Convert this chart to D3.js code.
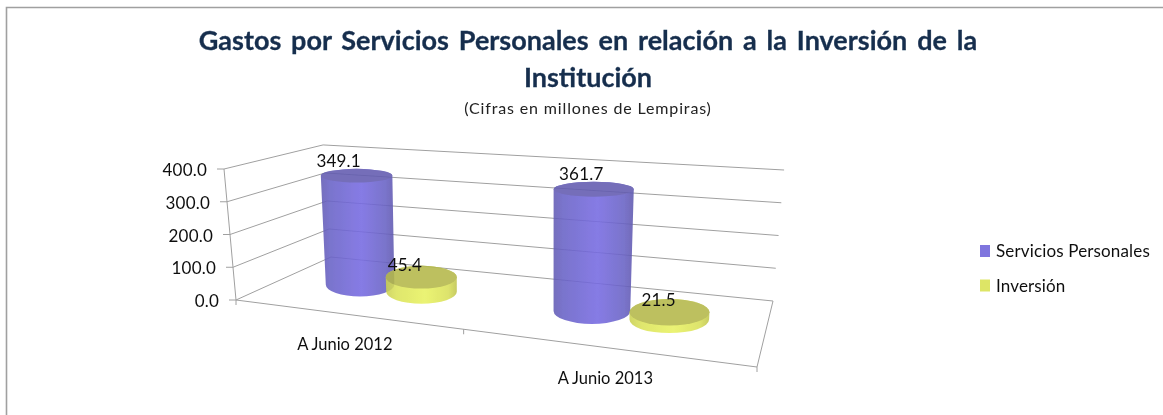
<!DOCTYPE html>
<html><head><meta charset="utf-8">
<script src="https://cdn.jsdelivr.net/npm/d3@7"></script>
<style>html,body{margin:0;padding:0;background:#fff}svg{display:block}text{font-family:Lato,"Noto Sans",sans-serif}</style>
</head><body><svg id="c" width="1163" height="415"></svg>
<script>
const categories = ["A Junio 2012", "A Junio 2013"];
const seriesNames = ["Servicios Personales", "Inversión"];
const serviciosPersonales = [349.1, 361.7];
const inversion = [45.4, 21.5];
const valueTicks = [0, 100, 200, 300, 400];
const titleLines = ["Gastos por Servicios Personales en relación a la Inversión de la", "Institución"];
const subtitle = "(Cifras en millones de Lempiras)";
const seriesValues = [serviciosPersonales, inversion];

// scene layout: floor quad of the 3-D box (front-left, front-right, back-right, back-left)
const FL=[236,300], FR=[757,367], BR=[773,301], BL=[331,257];
const WALL_H=131, LEAN=0.043, LEAN_X=515;
const dx1=FR[0]-BR[0], dx2=BL[0]-BR[0], sx=FL[0]-FR[0]+BR[0]-BL[0];
const dy1=FR[1]-BR[1], dy2=BL[1]-BR[1], sy=FL[1]-FR[1]+BR[1]-BL[1];
const den=dx1*dy2-dx2*dy1;
const g=(sx*dy2-dx2*sy)/den, h=(dx1*sy-sx*dy1)/den;
const a=FR[0]-FL[0]+g*FR[0], b=BL[0]-FL[0]+h*BL[0], c0=FL[0];
const d=FR[1]-FL[1]+g*FR[1], e=BL[1]-FL[1]+h*BL[1], f0=FL[1];
const val=d3.scaleLinear().domain([0,400]).range([0,1]);
function proj(u,v,value=0,lean=LEAN){
  const w=g*u+h*v+1;
  const x=(a*u+b*v+c0)/w, y=(d*u+e*v+f0)/w;
  const t=val(value);
  const wallScale=1+0.17*((1-u)*v*-0.85+u*(1-v)*0.85);
  return [x+(x-LEAN_X)*lean*t, y-t*WALL_H*wallScale];
}
const xCat=d3.scaleBand().domain(categories).range([0.004,1.012]);
const xSer=d3.scaleBand().domain(seriesNames).range([-0.145,0.145]);
const R=0.078, DEPTH=0.5, BAR_LEAN=LEAN*0.6, R_MEAN=36.5, R_DAMP=0.5, TOP_FLARE=0.045;

const svg=d3.select("#c");
const defs=svg.append("defs");
defs.append("filter").attr("id","soft").attr("x","-5%").attr("y","-5%").attr("width","110%").attr("height","110%")
  .append("feGaussianBlur").attr("stdDeviation",0.45);
function grad(id,stops){
  const gr=defs.append("linearGradient").attr("id",id);
  stops.forEach(s=>gr.append("stop").attr("offset",s[0]).attr("stop-color",s[1]));
}
grad("gBlue",[[0,"#625cb4"],[0.12,"#6861c6"],[0.55,"#766ae2"],[0.88,"#6861c4"],[1,"#5e58ae"]]);
grad("gYel",[[0,"#c9cf52"],[0.15,"#dbe359"],[0.55,"#e8f261"],[0.88,"#d9e058"],[1,"#bfc44e"]]);
const topFill=["#625bb0","#b4b84a"];
const color=d3.scaleOrdinal().domain(seriesNames).range(["#7f74de","#dde566"]);

// frame
svg.append("path").attr("d",d3.line()([[6.5,415],[6.5,7.5],[1163,7.5]]))
  .attr("fill","none").attr("stroke","#a0a0a0").attr("stroke-width",1.6);

const chart=svg.append("g").attr("filter","url(#soft)");
const line=d3.line();
const gridC="#a0a0a0";
// gridlines
valueTicks.forEach(t=>{
  chart.append("path").attr("d",line([proj(0,0,t),proj(0,1,t),proj(1,1,t)]))
    .attr("fill","none").attr("stroke",gridC).attr("stroke-width",1);
  const p=proj(0,0,t);
  chart.append("path").attr("d",line([[p[0]-7,p[1]],p])).attr("stroke",gridC).attr("fill","none");
  chart.append("text").attr("x",p[0]-17).attr("y",p[1]+7).attr("text-anchor","end")
    .attr("font-size",17).attr("letter-spacing",0.2).attr("fill","#111").text(d3.format(".1f")(t));
});
// axis + floor
chart.append("path").attr("d",line([proj(0,0,0),proj(0,0,400)])).attr("fill","none").attr("stroke",gridC);
chart.append("path").attr("d",line([proj(0,0,0),proj(1,0,0),proj(1,1,0)])).attr("fill","none").attr("stroke",gridC);
[0,0.5,1].forEach(u=>{
  const p=proj(u,0,0);
  chart.append("path").attr("d",line([p,[p[0],p[1]+5]])).attr("fill","none").attr("stroke",gridC);
});
// cylinders
const bars=[];
categories.forEach((cat,i)=>seriesNames.forEach((s,j)=>{
  bars.push({cat,s,j,value:seriesValues[j][i],u:xCat(cat)+xCat.bandwidth()/2+xSer(s)+xSer.bandwidth()/2});
}));
function cyl(bar){
  const l=proj(bar.u-R,DEPTH,0,0), r=proj(bar.u+R,DEPTH,0,0);
  const raw=Math.abs(r[0]-l[0])/2;
  const rb=R_MEAN+(raw-R_MEAN)*R_DAMP;
  const rt=rb*(1+TOP_FLARE*val(bar.value)/0.9);
  const base=proj(bar.u,DEPTH,0,BAR_LEAN), top=proj(bar.u,DEPTH,bar.value,BAR_LEAN);
  const ryb=rb*0.34, ryt=rt*(0.34-0.17*val(bar.value));
  const gEl=chart.append("g").attr("opacity",0.88);
  const body=`M${top[0]-rt},${top[1]}L${base[0]-rb},${base[1]}A${rb},${ryb} 0 0 0 ${base[0]+rb},${base[1]}L${top[0]+rt},${top[1]}A${rt},${ryt} 0 0 0 ${top[0]-rt},${top[1]}Z`;
  gEl.append("path").attr("d",body).attr("fill",bar.j===0?"url(#gBlue)":"url(#gYel)");
  gEl.append("ellipse").attr("cx",top[0]).attr("cy",top[1]).attr("rx",rt).attr("ry",ryt).attr("fill",topFill[bar.j]);
  return top;
}
const tops=bars.map(cyl);
bars.forEach((bar,i)=>{
  const top=tops[i];
  chart.append("text").attr("x",top[0]-20+11*bar.u).attr("y",top[1]+(bar.j===0?-9:-6)).attr("text-anchor","middle")
    .attr("font-size",17).attr("letter-spacing",0.2).attr("fill","#111").text(d3.format(".1f")(bar.value));
});
// category labels
categories.forEach(cat=>{
  const p=proj(xCat(cat)+xCat.bandwidth()/2,0,0);
  chart.append("text").attr("x",p[0]-1).attr("y",p[1]+36).attr("text-anchor","middle")
    .attr("font-size",16.5).attr("fill","#111").text(cat);
});
// title
const title=chart.append("g");
title.append("text").attr("x",588).attr("y",50).attr("text-anchor","middle").attr("font-size",27).attr("font-weight",700)
  .attr("word-spacing",3.3).attr("fill","#172f4e").attr("stroke","#172f4e").attr("stroke-width",0.3).text(titleLines[0]);
title.append("text").attr("x",588).attr("y",87).attr("text-anchor","middle").attr("font-size",27).attr("font-weight",700)
  .attr("fill","#172f4e").attr("stroke","#172f4e").attr("stroke-width",0.3).text(titleLines[1]);
title.append("text").attr("x",588).attr("y",114).attr("text-anchor","middle").attr("font-size",16)
  .attr("letter-spacing",0.85).attr("fill","#222").text(subtitle);
// legend
const lg=chart.append("g");
seriesNames.forEach((s,j)=>{
  const y=251+j*34.5;
  lg.append("rect").attr("x",980).attr("y",y-6).attr("width",10).attr("height",12).attr("fill",color(s));
  lg.append("text").attr("x",996).attr("y",y+6).attr("font-size",17).attr("letter-spacing",0.15).attr("fill","#111").text(s);
});
</script></body></html>
